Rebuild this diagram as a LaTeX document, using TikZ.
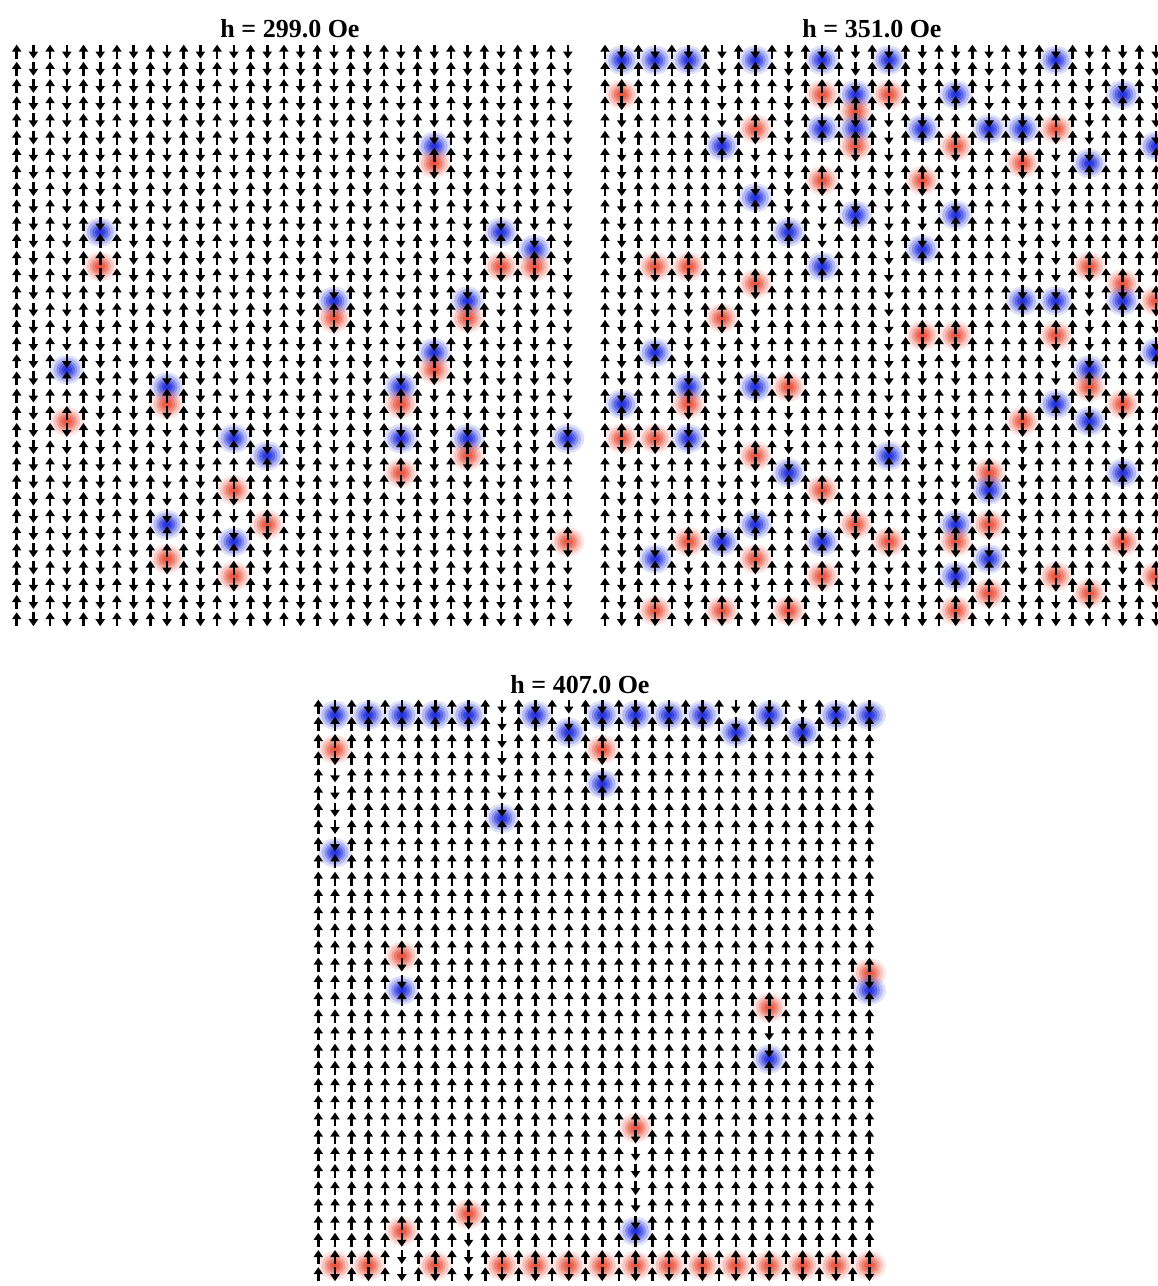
\documentclass[tikz,border=0pt]{standalone}
\usepackage{fontspec}
\setmainfont{Liberation Serif}
\usetikzlibrary{arrows.meta}
\definecolor{qblue}{RGB}{20,35,220}
\definecolor{qred}{RGB}{232,72,50}
\pgfdeclarelayer{blobs}
\pgfsetlayers{blobs,main}
\tikzset{
  spin/.style={line width=2.6pt, black, -{Triangle[width=9pt,length=7pt]}},
  paneltitle/.style={font=\bfseries\fontsize{26}{30}\selectfont, anchor=base, inner sep=0pt},
}
% one arrow: x, y0, row, dir (1 up / -1 down)
\newcommand\sarrow[4]{%
  \pgfmathsetmacro\ya{#2+17.2*#3+1.6}%
  \pgfmathsetmacro\yb{#2+17.2*(#3+1)-1.6}%
  \ifnum#4>0 \draw[spin] (#1,\yb) -- (#1,\ya);\else\draw[spin] (#1,\ya) -- (#1,\yb);\fi}
% charge blob: x, y, colour
\newcommand\blob[3]{%
  \begin{pgfonlayer}{blobs}%
  \foreach \rx/\ry/\op in {16.5/14.5/0.14,13.5/12/0.2,10.5/9.3/0.28,8/7/0.38,5.5/4.8/0.5,3/2.6/0.5}{%
    \fill[#3,opacity=\op] (#1,#2) ellipse [x radius=\rx pt,y radius=\ry pt];}%
  \end{pgfonlayer}}
% column: x, y0, start dir, toggle vertices (list ending with 34)
\newcommand\spincol[4]{%
  \xdef\sdir{#3}\xdef\sprev{0}\xdef\scnt{0}%
  \foreach \t in {#4}{%
    \pgfmathtruncatemacro\tend{\t-1}%
    \ifnum\t>\sprev\relax
      \foreach \r in {\sprev,...,\tend}{\sarrow{#1}{#2}{\r}{\sdir}}%
    \fi
    \ifnum\t<34\relax
      \pgfmathtruncatemacro\cc{\scnt+1}\xdef\scnt{\cc}%
      \pgfmathsetmacro\yy{#2+17.2*\t}%
      \ifodd\scnt\relax\blob{#1}{\yy}{qblue}\else\blob{#1}{\yy}{qred}\fi
    \fi
    \xdef\sprev{\t}%
    \pgfmathtruncatemacro\nd{-\sdir}\xdef\sdir{\nd}%
  }}
% even (up) columns of a panel: x of column 0, y0
\newcommand\panelup[2]{%
  \foreach \c in {0,2,...,32}{%
    \pgfmathsetmacro\xx{#1+16.7*\c}%
    \spincol{\xx}{#2}{1}{34}}}
% odd column: panel x0, y0, column index, toggles
\newcommand\pcol[4]{%
  \pgfmathsetmacro\xxx{#1+16.7*#3}%
  \spincol{\xxx}{#2}{-1}{#4}}
\begin{document}
\begin{tikzpicture}[x=1pt,y=-1pt]
\useasboundingbox (0,0) rectangle (1158,1286);
\clip (0,0) rectangle (1158,1286);
\node[paneltitle] (t1) at (290,37) {h = 299.0 Oe};
\node[paneltitle] (t2) at (872,37) {h = 351.0 Oe};
\node[paneltitle] (t3) at (580,693) {h = 407.0 Oe};
% ---------- panel 1 ----------
\panelup{16.7}{43}
\pcol{16.7}{43}{1}{34}
\pcol{16.7}{43}{3}{19,22,34}
\pcol{16.7}{43}{5}{11,13,34}
\pcol{16.7}{43}{7}{34}
\pcol{16.7}{43}{9}{20,21,28,30,34}
\pcol{16.7}{43}{11}{34}
\pcol{16.7}{43}{13}{23,26,29,31,34}
\pcol{16.7}{43}{15}{24,28,34}
\pcol{16.7}{43}{17}{34}
\pcol{16.7}{43}{19}{15,16,34}
\pcol{16.7}{43}{21}{34}
\pcol{16.7}{43}{23}{20,21,23,25,34}
\pcol{16.7}{43}{25}{6,7,18,19,34}
\pcol{16.7}{43}{27}{15,16,23,24,34}
\pcol{16.7}{43}{29}{11,13,34}
\pcol{16.7}{43}{31}{12,13,34}
\pcol{16.7}{43}{33}{23,29,34}
% ---------- panel 2 ----------
\panelup{605}{43}
\pcol{605}{43}{1}{1,3,21,23,34}
\pcol{605}{43}{3}{1,13,18,23,30,33,34}
\pcol{605}{43}{5}{1,13,20,21,23,29,34}
\pcol{605}{43}{7}{6,16,29,33,34}
\pcol{605}{43}{9}{1,5,9,14,20,24,28,30,34}
\pcol{605}{43}{11}{11,20,25,33,34}
\pcol{605}{43}{13}{1,3,5,8,13,26,29,31,34}
\pcol{605}{43}{15}{3,4,5,6,10,28,34}
\pcol{605}{43}{17}{1,3,24,29,34}
\pcol{605}{43}{19}{5,8,12,17,34}
\pcol{605}{43}{21}{3,6,10,17,28,29,31,33,34}
\pcol{605}{43}{23}{5,25,26,28,30,32,34}
\pcol{605}{43}{25}{5,7,15,22,34}
\pcol{605}{43}{27}{1,5,15,17,21,31,34}
\pcol{605}{43}{29}{7,13,19,20,22,32,34}
\pcol{605}{43}{31}{3,14,15,21,25,29,34}
\pcol{605}{43}{33}{6,15,18,31,34}
% ---------- panel 3 ----------
\panelup{318.3}{698}
\pcol{318.3}{698}{1}{1,3,9,33,34}
\pcol{318.3}{698}{3}{1,33,34}
\pcol{318.3}{698}{5}{1,15,17,31,34}
\pcol{318.3}{698}{7}{1,33,34}
\pcol{318.3}{698}{9}{1,30,34}
\pcol{318.3}{698}{11}{7,33,34}
\pcol{318.3}{698}{13}{1,33,34}
\pcol{318.3}{698}{15}{2,33,34}
\pcol{318.3}{698}{17}{1,3,5,33,34}
\pcol{318.3}{698}{19}{1,25,31,33,34}
\pcol{318.3}{698}{21}{1,33,34}
\pcol{318.3}{698}{23}{1,33,34}
\pcol{318.3}{698}{25}{2,33,34}
\pcol{318.3}{698}{27}{1,18,21,33,34}
\pcol{318.3}{698}{29}{2,33,34}
\pcol{318.3}{698}{31}{1,33,34}
\pcol{318.3}{698}{33}{1,16,17,33,34}
\end{tikzpicture}
\end{document}
